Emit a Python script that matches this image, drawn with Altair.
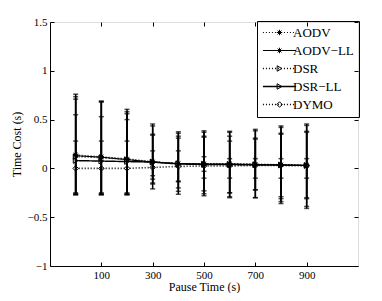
import altair as alt
import pandas as pd

pause_time = [0, 100, 200, 300, 400, 500, 600, 700, 800, 900]
series_names = ["AODV", "AODV−LL", "DSR", "DSR−LL", "DYMO"]

aodv_mean = [0.14, 0.12, 0.10, 0.07, 0.05, 0.05, 0.05, 0.045, 0.04, 0.035]
aodv_ll_mean = [0.13, 0.115, 0.09, 0.065, 0.05, 0.045, 0.045, 0.04, 0.035, 0.03]
dsr_mean = [0.12, 0.11, 0.09, 0.065, 0.05, 0.045, 0.04, 0.04, 0.035, 0.03]
dsr_ll_mean = [0.08, 0.075, 0.07, 0.065, 0.045, 0.04, 0.04, 0.035, 0.035, 0.03]
dymo_mean = [0.0, 0.0, 0.0, 0.01, 0.02, 0.025, 0.025, 0.03, 0.03, 0.025]

aodv_hi = [0.76, 0.69, 0.605, 0.455, 0.375, 0.385, 0.38, 0.40, 0.435, 0.455]
aodv_ll_hi = [0.735, 0.685, 0.58, 0.435, 0.36, 0.37, 0.37, 0.385, 0.42, 0.44]
dsr_hi = [0.71, 0.68, 0.56, 0.35, 0.33, 0.33, 0.33, 0.31, 0.36, 0.38]
dsr_ll_hi = [0.55, 0.53, 0.50, 0.34, 0.31, 0.32, 0.28, 0.30, 0.35, 0.37]
dymo_hi = [0.28, 0.28, 0.28, 0.18, 0.18, 0.12, 0.10, 0.10, 0.10, 0.10]

aodv_lo = [-0.27, -0.27, -0.27, -0.21, -0.265, -0.28, -0.30, -0.30, -0.36, -0.41]
aodv_ll_lo = [-0.265, -0.265, -0.265, -0.16, -0.235, -0.26, -0.29, -0.30, -0.34, -0.39]
dsr_lo = [-0.26, -0.26, -0.26, -0.11, -0.20, -0.23, -0.25, -0.22, -0.31, -0.31]
dsr_ll_lo = [-0.25, -0.25, -0.25, -0.075, -0.137, -0.03, -0.25, -0.22, -0.29, -0.30]
dymo_lo = [-0.27, -0.27, -0.27, -0.15, -0.13, -0.10, -0.10, -0.10, -0.10, -0.10]

x_ticks = [100, 300, 500, 700, 900]
y_ticks = [-1, -0.5, 0, 0.5, 1, 1.5]

means = [aodv_mean, aodv_ll_mean, dsr_mean, dsr_ll_mean, dymo_mean]
his = [aodv_hi, aodv_ll_hi, dsr_hi, dsr_ll_hi, dymo_hi]
los = [aodv_lo, aodv_ll_lo, dsr_lo, dsr_ll_lo, dymo_lo]

rows = []
for name, m, h, l in zip(series_names, means, his, los):
    for x, mv, hv, lv in zip(pause_time, m, h, l):
        rows.append({"series": name, "pause": x, "mean": mv, "hi": hv, "lo": lv})
df = pd.DataFrame(rows)

FONT = "Liberation Serif"
ASTERISK = "M-1,0H1M0,-1V1M-0.7,-0.7L0.7,0.7M-0.7,0.7L0.7,-0.7"
marker_names = [n + " " for n in series_names]

xs = alt.Scale(domain=[-100, 1100], nice=False, zero=False)
ys = alt.Scale(domain=[-1, 1.5], nice=False, zero=False)

common_axis = dict(grid=False, domainColor="black", tickColor="black", labelColor="black",
                   titleColor="black", labelFont=FONT, titleFont=FONT, labelFontSize=11,
                   titleFontSize=12, titleFontWeight="normal", tickSize=alt.ExprRef("-4"),
                   labelFlush=False, domainWidth=1, tickWidth=1)

x_axis = alt.Axis(values=x_ticks, title="Pause Time (s)", format="d",
                  labelPadding=7, titlePadding=1, **common_axis)
y_axis = alt.Axis(values=y_ticks, title="Time Cost (s)", format="~g",
                  labelPadding=7, titlePadding=4, **common_axis)

base = alt.Chart(df)
X = alt.X("pause:Q", scale=xs, axis=x_axis)

bars = base.mark_rule(color="black", strokeWidth=1.5).encode(
    x=X, y=alt.Y("lo:Q", scale=ys, axis=y_axis), y2="hi:Q",
)
caps_hi = base.mark_tick(color="black", orient="horizontal", size=5, thickness=1.5).encode(
    x=X, y=alt.Y("hi:Q", scale=ys, axis=y_axis),
)
caps_lo = base.mark_tick(color="black", orient="horizontal", size=5, thickness=1.5).encode(
    x=X, y=alt.Y("lo:Q", scale=ys, axis=y_axis),
)

legend_lines = alt.Legend(
    title=None, orient="none", legendX=207, legendY=-1,
    symbolType="M-5,0H5", symbolSize=44, symbolStrokeColor="black",
    strokeColor="black", padding=5, rowPadding=4, labelOffset=7, symbolOffset=11,
    labelFont=FONT, labelFontSize=13, labelColor="black",
)
lines = base.transform_calculate(series_l="datum.series").mark_line(color="black").encode(
    x=X, y=alt.Y("mean:Q", scale=ys, axis=y_axis),
    strokeDash=alt.StrokeDash("series_l:N", scale=alt.Scale(domain=series_names,
                              range=[[1, 2], [1, 0], [1, 2], [1, 0], [1, 2]]), legend=legend_lines),
    strokeWidth=alt.StrokeWidth("series_l:N", scale=alt.Scale(domain=series_names,
                                range=[1, 1.6, 1, 1.6, 1]), legend=legend_lines),
)

legend_pts = alt.Legend(
    title=None, orient="none", legendX=218, legendY=-1,
    symbolSize=30, symbolStrokeColor="black", symbolStrokeWidth=1,
    padding=5, rowPadding=4, labelOffset=7, labelExpr="''",
    labelFont=FONT, labelFontSize=13, labelColor="transparent",
)
points = base.transform_calculate(series_p="datum.series + ' '").mark_point(
    filled=False, color="black", size=30, strokeWidth=1, opacity=1).encode(
    x=X, y=alt.Y("mean:Q", scale=ys, axis=y_axis),
    shape=alt.Shape("series_p:N", scale=alt.Scale(domain=marker_names,
                    range=[ASTERISK, ASTERISK, "triangle-right", "triangle-right", "diamond"]),
                    legend=legend_pts),
)

main = alt.layer(bars, caps_hi, caps_lo, lines, points)

frame_common = dict(common_axis)
frame_common.update(labels=False, title=None, domain=False)
frame = base.mark_point(opacity=0).encode(
    x=alt.X("pause:Q", scale=xs, axis=alt.Axis(orient="top", values=x_ticks, **frame_common)),
    y=alt.Y("mean:Q", scale=ys, axis=alt.Axis(orient="right", values=y_ticks, **frame_common)),
)

chart = alt.layer(main, frame).resolve_scale(x="independent", y="independent").properties(
    width=308, height=244,
    autosize=alt.AutoSizeParams(type="none"),
    padding={"left": 42, "top": 14, "right": 16, "bottom": 27},
).configure_view(stroke="black", strokeWidth=1).configure(background="white")

chart.save("out.html", embed_options={"renderer": "svg", "actions": False})
